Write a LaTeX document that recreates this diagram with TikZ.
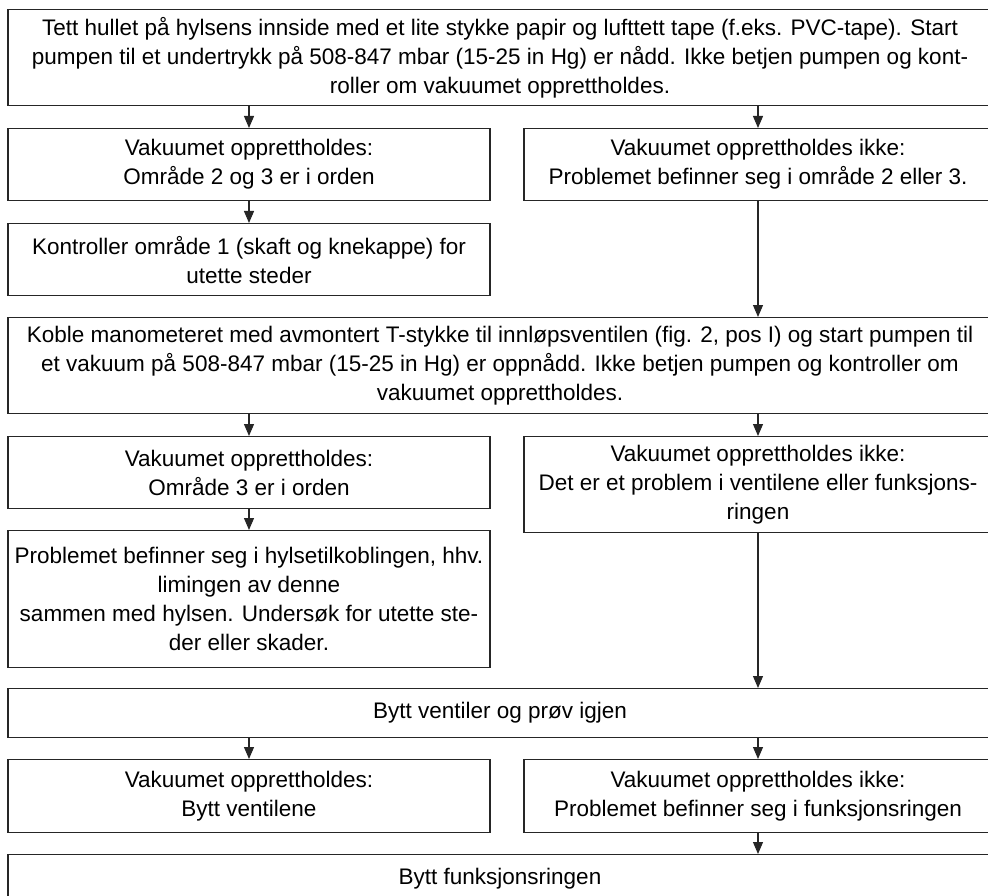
\documentclass[tikz,border=0pt]{standalone}
\usepackage{fontspec}
\setmainfont{Liberation Sans}
\usetikzlibrary{arrows.meta,positioning,calc}

\begin{document}
\begin{tikzpicture}[x=1pt,y=-1pt,
    box/.style={draw=black!85,line width=1.1pt,align=center,inner sep=0pt,anchor=north,
        font=\fontsize{22.5}{29}\selectfont},
    wide/.style={box,minimum width=984pt},
    lhalf/.style={box,minimum width=482pt},
    rhalf/.style={box,minimum width=468pt},
    arr/.style={draw=black!85,line width=1.1pt,-{Triangle[length=12pt,width=10pt]}}]
    \useasboundingbox (0,0) rectangle (988,896);

    % Test 1: seal the socket
    \node[wide,minimum height=96pt] (seal) at (500,9) {Tett hullet på hylsens innside med et lite stykke papir og lufttett tape (f.eks. PVC-tape). Start\\
        pumpen til et undertrykk på 508-847 mbar (15-25 in Hg) er nådd. Ikke betjen pumpen og kont-\\
        roller om vakuumet opprettholdes.};
    \node[lhalf,minimum height=72pt] (okA) at (249,128) {Vakuumet opprettholdes:\\ Område 2 og 3 er i orden};
    \node[rhalf,minimum height=72pt] (failA) at (758,128) {Vakuumet opprettholdes ikke:\\ Problemet befinner seg i område 2 eller 3.};
    \node[lhalf,minimum height=72pt] (checkA) at (249,223) {Kontroller område 1 (skaft og knekappe) for\\ utette steder};

    % Test 2: manometer on the inlet valve
    \node[wide,minimum height=96pt] (gauge) at (500,317) {Koble manometeret med avmontert T-stykke til innløpsventilen (fig. 2, pos I) og start pumpen til\\
        et vakuum på 508-847 mbar (15-25 in Hg) er oppnådd. Ikke betjen pumpen og kontroller om\\
        vakuumet opprettholdes.};
    \node[lhalf,minimum height=72pt] (okB) at (249,436) {Vakuumet opprettholdes:\\ Område 3 er i orden};
    \node[rhalf,minimum height=96pt] (failB) at (758,436) {Vakuumet opprettholdes ikke:\\ Det er et problem i ventilene eller funksjons-\\ ringen};
    \node[lhalf,minimum height=137pt] (checkB) at (249,530) {Problemet befinner seg i hylsetilkoblingen, hhv.\\ limingen av denne\\
        sammen med hylsen. Undersøk for utette ste-\\ der eller skader.};

    % Test 3: new valves
    \node[wide,minimum height=49pt] (valves) at (500,688) {Bytt ventiler og prøv igjen};
    \node[lhalf,minimum height=73pt] (okC) at (249,759) {Vakuumet opprettholdes:\\ Bytt ventilene};
    \node[rhalf,minimum height=73pt] (failC) at (758,759) {Vakuumet opprettholdes ikke:\\ Problemet befinner seg i funksjonsringen};
    \node[wide,minimum height=49pt] (ring) at (500,854) {Bytt funksjonsringen};

    % arrows
    \draw[arr] (seal.south -| okA) -- (okA);
    \draw[arr] (seal.south -| failA) -- (failA);
    \draw[arr] (okA) -- (checkA);
    \draw[arr] (failA) -- (failA |- gauge.north);
    \draw[arr] (gauge.south -| okB) -- (okB);
    \draw[arr] (gauge.south -| failB) -- (failB);
    \draw[arr] (okB) -- (checkB);
    \draw[arr] (failB) -- (failB |- valves.north);
    \draw[arr] (valves.south -| okC) -- (okC);
    \draw[arr] (valves.south -| failC) -- (failC);
    \draw[arr] (failC) -- (failC |- ring.north);
\end{tikzpicture}
\end{document}
